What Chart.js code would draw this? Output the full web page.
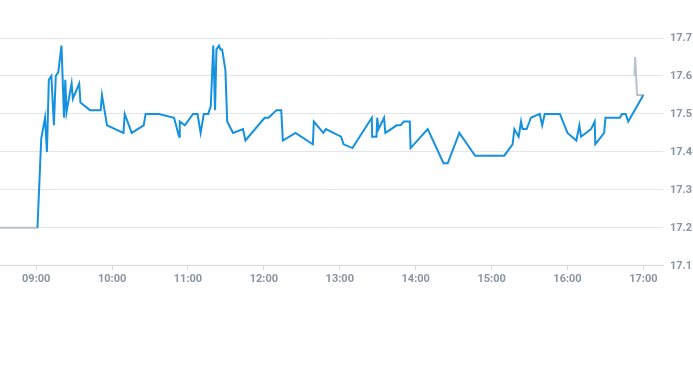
<!DOCTYPE html>
<html>
<head>
<meta charset="utf-8">
<script src="https://cdn.jsdelivr.net/npm/chart.js@4/dist/chart.umd.min.js"></script>
<style>
  html, body { margin: 0; padding: 0; background: #ffffff; }
  #wrap { width: 693px; height: 365px; position: relative; }
</style>
</head>
<body>
<div id="wrap"><canvas id="c"></canvas></div>
<script>
// ---- data (time of day "HH:MM" with optional fractional minutes, price) ----
const sessionTimes = [
  "09:01","09:04","09:07","09:08.5","09:10","09:12","09:14","09:15.5","09:17.5","09:20",
  "09:22","09:23","09:24","09:28","09:29","09:34","09:35","09:42.5","09:51","09:52",
  "09:56","10:09","10:10","10:15.5","10:25","10:26.5","10:37","10:49","10:53","10:53.5",
  "10:57.5","11:04","11:07.5","11:10","11:12.5","11:16","11:18","11:20","11:21.4","11:22.5",
  "11:24.5","11:25.6","11:27","11:29.6","11:31","11:35.6","11:43.5","11:45.4","12:00.6","12:03.7",
  "12:10","12:13.7","12:15","12:25","12:38.7","12:39.5","12:47","12:49","13:01","13:03",
  "13:10","13:25.3","13:25.6","13:29","13:29.6","13:30.6","13:35","13:36","13:45","13:48",
  "13:50.6","13:55.3","13:56","14:09.5","14:22","14:25.3","14:34.5","14:47","15:10","15:16.6",
  "15:18","15:21.4","15:23.3","15:24.5","15:27.7","15:30","15:31","15:38","15:40","15:42",
  "15:54","16:00","16:07","16:09.4","16:10.7","16:18.6","16:21.5","16:22","16:29","16:30",
  "16:41.5","16:43","16:46","16:48","17:00"
];
const sessionPrices = [
  17.20,17.435,17.49,17.40,17.59,17.60,17.47,17.60,17.61,17.68,
  17.49,17.59,17.505,17.58,17.54,17.58,17.53,17.51,17.51,17.55,
  17.47,17.45,17.50,17.45,17.47,17.50,17.50,17.49,17.44,17.48,
  17.47,17.50,17.50,17.45,17.50,17.50,17.52,17.68,17.51,17.67,
  17.68,17.67,17.67,17.615,17.48,17.45,17.46,17.43,17.49,17.49,
  17.51,17.51,17.43,17.45,17.42,17.48,17.45,17.46,17.44,17.42,
  17.41,17.49,17.44,17.44,17.49,17.46,17.49,17.45,17.47,17.47,
  17.48,17.48,17.41,17.46,17.37,17.37,17.45,17.39,17.39,17.42,
  17.46,17.44,17.48,17.46,17.46,17.48,17.49,17.50,17.47,17.50,
  17.50,17.45,17.43,17.47,17.44,17.46,17.48,17.42,17.45,17.49,
  17.49,17.50,17.50,17.48,17.55
];
const preTimes  = ["08:30","09:01"];
const prePrices = [17.20, 17.20];
const postTimes  = ["16:53","16:53.5","16:55","17:00"];
const postPrices = [17.60, 17.65, 17.55, 17.55];

const xTickLabels = ["09:00","10:00","11:00","12:00","13:00","14:00","15:00","16:00","17:00"];
const yTickLabels = ["17.1","17.2","17.3","17.4","17.5","17.6","17.7"];
const axisStart = "08:31.4";
const axisEnd   = "17:15.5";

// ---- helpers ----
function toMin(s) {
  const [h, m] = s.split(":");
  return parseInt(h, 10) * 60 + parseFloat(m);
}
function fmt(v) {
  const h = Math.floor(v / 60), m = Math.round(v - h * 60);
  return String(h).padStart(2, "0") + ":" + String(m).padStart(2, "0");
}
function pts(times, vals) { return times.map((t, i) => ({ x: toMin(t), y: vals[i] })); }

const xTickVals = xTickLabels.map(toMin);
const yTickVals = yTickLabels.map(Number);

const tickColor = "#8a95a1";
const tickFont = { family: "Roboto, 'Liberation Sans', Arial, sans-serif", size: 11, weight: "bold" };

new Chart(document.getElementById("c"), {
  type: "line",
  data: {
    datasets: [
      { data: pts(sessionTimes, sessionPrices), borderColor: "#1591e0", borderWidth: 2,
        pointRadius: 0, tension: 0, fill: false },
      { data: pts(preTimes, prePrices), borderColor: "#b9c3cc", borderWidth: 2,
        pointRadius: 0, tension: 0, fill: false },
      { data: pts(postTimes, postPrices), borderColor: "#b9c3cc", borderWidth: 2,
        pointRadius: 0, tension: 0, fill: false }
    ]
  },
  options: {
    responsive: true,
    maintainAspectRatio: false,
    animation: false,
    layout: { padding: { top: 38, bottom: 76, left: 0, right: 0 } },
    plugins: { legend: { display: false }, tooltip: { enabled: false } },
    scales: {
      x: {
        type: "linear",
        min: toMin(axisStart),
        max: toMin(axisEnd),
        afterBuildTicks: (s) => { s.ticks = xTickVals.map(v => ({ value: v })); },
        ticks: { autoSkip: false, maxRotation: 0, color: tickColor, font: tickFont, padding: 3,
                 callback: (v) => fmt(v) },
        grid: { display: true, drawOnChartArea: false, drawTicks: true, tickLength: 4, color: "#d3d8dd" },
        border: { display: true, color: "#d3d8dd" }
      },
      y: {
        position: "right",
        min: 17.1,
        max: 17.7,
        afterBuildTicks: (s) => { s.ticks = yTickVals.map(v => ({ value: v })); },
        afterFit: (s) => { s.width = 30; },
        ticks: { color: tickColor, font: tickFont, padding: 7, callback: (v) => v.toFixed(1) },
        grid: { color: "#e3e6e9", drawTicks: false },
        border: { display: false }
      }
    }
  }
});
</script>
</body>
</html>
